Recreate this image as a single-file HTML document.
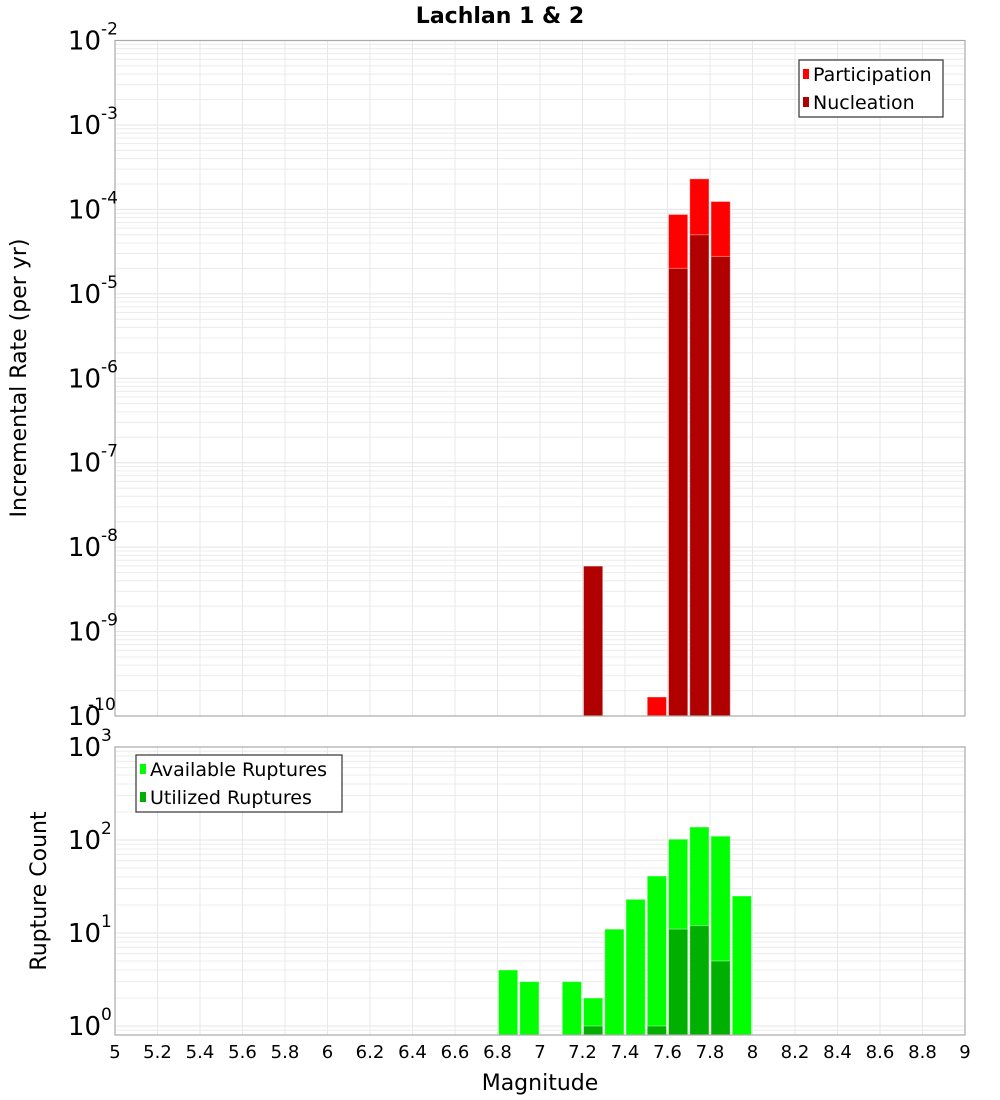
<!DOCTYPE html>
<html><head><meta charset="utf-8"><style>
body{margin:0;background:#fff;}
svg{display:block;font-family:"DejaVu Sans","Liberation Sans",sans-serif;}
</style></head><body>
<svg id="c" width="1000" height="1100">
<text x="500" y="23" text-anchor="middle" font-size="22" font-weight="bold">Lachlan 1 &amp; 2</text>
<text transform="translate(26,378) rotate(-90)" text-anchor="middle" font-size="22">Incremental Rate (per yr)</text>
<text transform="translate(46,891) rotate(-90)" text-anchor="middle" font-size="22">Rupture Count</text>
<text x="540" y="1090" text-anchor="middle" font-size="22">Magnitude</text>
<g id="g"></g>
</svg>
<script>
const topMags = [7.25, 7.55, 7.65, 7.75, 7.85];
const participation = [0, 1.68e-10, 8.7e-5, 2.3e-4, 1.24e-4];
const nucleation = [5.96e-9, 0, 2.0e-5, 5.0e-5, 2.77e-5];
const botMags = [6.85, 6.95, 7.15, 7.25, 7.35, 7.45, 7.55, 7.65, 7.75, 7.85, 7.95];
const available = [4, 3, 3, 2, 11, 23, 41, 102, 138, 110, 25];
const utilized = [0, 0, 0, 1, 0, 0, 1, 11, 12, 5, 0];
const xTicks = ["5","5.2","5.4","5.6","5.8","6","6.2","6.4","6.6","6.8","7","7.2","7.4","7.6","7.8","8","8.2","8.4","8.6","8.8","9"];
const topExps = [-10,-9,-8,-7,-6,-5,-4,-3,-2];
const botExps = [0,1,2,3];

const NS="http://www.w3.org/2000/svg";
const g=document.getElementById('g');
function mk(t,a,p){const e=document.createElementNS(NS,t);for(const k in a)e.setAttribute(k,a[k]);(p||g).appendChild(e);return e;}
const L=115,R=965;
const xs=m=>L+(m-5)*(R-L)/4;
const T1=40.5,B1=716;
const y1=v=>B1-(Math.log10(v)+10)*(B1-T1)/8;
const T2=747,B2=1035;
const y2=v=>1026-Math.log10(v)*93;

function grid(top,bot,ys,exps){
  exps.forEach((e,i)=>{ if(i<exps.length-1) for(let k=2;k<=9;k++){const y=ys(k*Math.pow(10,e)); if(y>top&&y<bot){const l=mk('line',{x1:L,x2:R,y1:y,y2:y,stroke:'#ececec','stroke-width':1});}}
    const y=ys(Math.pow(10,e)); if(y>top&&y<bot){const l=mk('line',{x1:L,x2:R,y1:y,y2:y,stroke:'#e4e4e4','stroke-width':1});}});
  // lower partial decade for bottom
  xTicks.forEach(t=>{const x=xs(+t);const l=mk('line',{x1:x,x2:x,y1:top,y2:bot,stroke:'#e8e8e8','stroke-width':1});});
}
grid(T1,B1,y1,topExps);
grid(T2,B2,y2,[-1].concat(botExps));

function bar(m,v,ys,bot,color,name){ if(!v) return; const x=xs(m-0.05)+1,w=xs(m+0.05)-xs(m-0.05)-2;const y=Math.max(ys(v),0);
  const r=mk('rect',{x:x,y:y,width:w,height:bot-y,fill:color,stroke:'rgba(255,255,255,0.4)','stroke-width':1});
  }
topMags.forEach((m,i)=>bar(m,participation[i],y1,B1,'#ff0000','participation-bar'));
topMags.forEach((m,i)=>bar(m,nucleation[i],y1,B1,'#b00000','nucleation-bar'));
botMags.forEach((m,i)=>bar(m,available[i],y2,B2,'#00ff00','available-bar'));
botMags.forEach((m,i)=>bar(m,utilized[i],y2,B2,'#00b000','utilized-bar'));

[[T1,B1],[T2,B2]].forEach(([t,b])=>{const r=mk('rect',{x:L,y:t,width:R-L,height:b-t,fill:'none',stroke:'#aaa','stroke-width':1.2});});

function ylab(ys,e,idx){const y=ys(Math.pow(10,e));
  const t=mk('text',{x:101,y:y+9,'text-anchor':'end','font-size':26});t.textContent='10';
  const s=mk('text',{x:e<=-10?88:101,y:y-6,'font-size':17});s.textContent=String(e);}
topExps.forEach(e=>ylab(y1,e));
botExps.forEach(e=>ylab(y2,e));
xTicks.forEach(t=>{const l=mk('text',{x:xs(+t),y:1058,'text-anchor':'middle','font-size':18});l.textContent=t;});

function legend(x,y,w,items){const b=mk('rect',{x:x,y:y,width:w,height:57,fill:'#fff',stroke:'#333','stroke-width':1.2});
  items.forEach(([lab,col],i)=>{const yy=y+14+i*28;const s=mk('rect',{x:x+4,y:yy-5,width:6,height:10,fill:col});
    const t=mk('text',{x:x+14,y:yy+7,'font-size':19});t.textContent=lab;});}
legend(799,60,144,[['Participation','#ff0000'],['Nucleation','#b00000']]);
legend(136,755,206,[['Available Ruptures','#00ff00'],['Utilized Ruptures','#00b000']]);
</script>
</body></html>
